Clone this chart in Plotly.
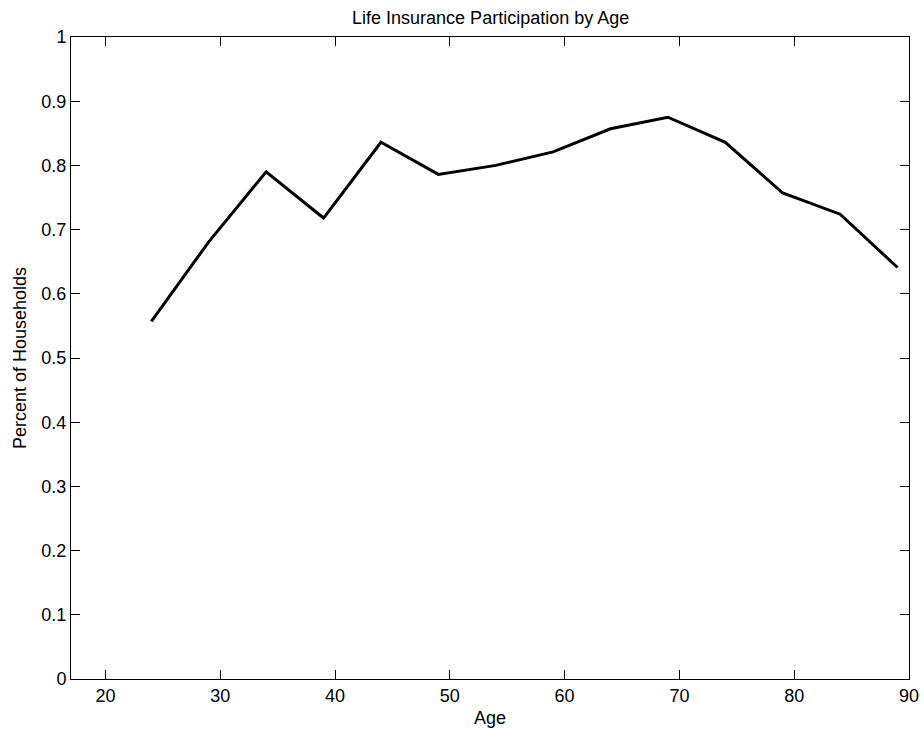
import plotly.graph_objects as go

ages = [24, 29, 34, 39, 44, 49, 54, 59, 64, 69, 74, 79, 84, 89]
participation = [0.557, 0.681, 0.790, 0.718, 0.836, 0.786, 0.800, 0.821,
                 0.857, 0.875, 0.836, 0.757, 0.724, 0.641]
x_ticks = [20, 30, 40, 50, 60, 70, 80, 90]
y_ticks = [0, 0.1, 0.2, 0.3, 0.4, 0.5, 0.6, 0.7, 0.8, 0.9, 1]

font_family = "Liberation Sans, Arial, Helvetica, sans-serif"
FS = 18

fig = go.Figure()
fig.add_trace(go.Scatter(x=ages, y=participation, mode="lines",
                         line=dict(color="black", width=3), showlegend=False))

axis_common = dict(showline=True, linecolor="black", linewidth=1, mirror="ticks",
                   ticks="inside", ticklen=9, tickcolor="black", tickwidth=1,
                   showgrid=False, zeroline=False, automargin=False,
                   tickfont=dict(family=font_family, size=FS, color="black"))

fig.update_layout(
    width=924, height=733,
    paper_bgcolor="white", plot_bgcolor="white",
    margin=dict(l=71, r=15, t=37, b=54),
    title=dict(text="Life Insurance Participation by Age", x=0.531, xanchor="center",
               y=1 - 11 / 733, yanchor="top",
               font=dict(family=font_family, size=FS, color="black")),
    xaxis=dict(range=[17, 90], tickvals=x_ticks,
               title=dict(text="Age", standoff=6,
                          font=dict(family=font_family, size=FS, color="black")),
               **axis_common),
    yaxis=dict(range=[0, 1], tickvals=y_ticks,
               title=dict(text="Percent of Households", standoff=10,
                          font=dict(family=font_family, size=FS, color="black")),
               **axis_common),
)

fig.write_html("out.html",
               config={"displayModeBar": False},
               post_script="document.body.style.margin='0';document.body.style.overflow='hidden';")
